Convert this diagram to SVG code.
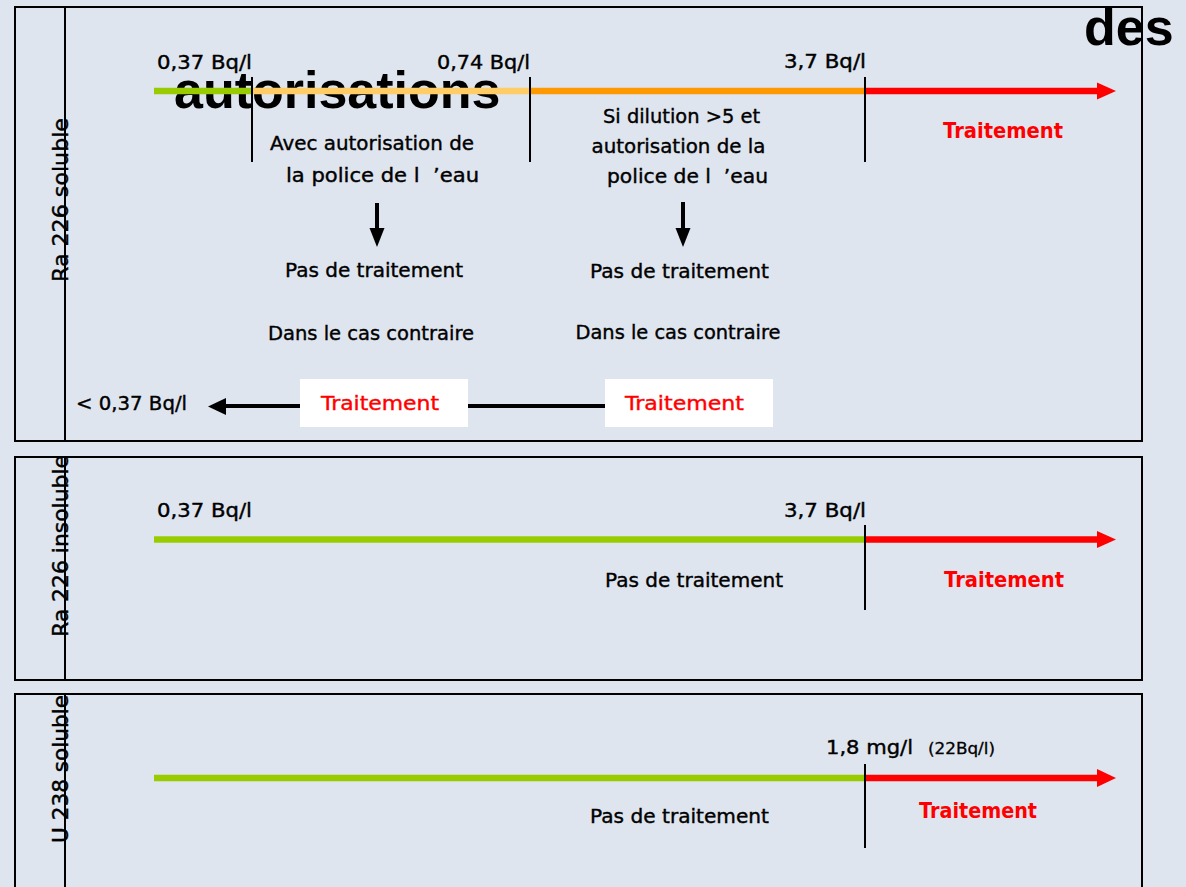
<svg xmlns="http://www.w3.org/2000/svg" width="1186" height="887" viewBox="0 0 1186 887">
<style>
.bg{fill:#DFE5EF}
.big{font-family:"Liberation Sans",Arial,sans-serif;font-weight:bold;font-size:52px;fill:#000}
.t{font-family:"DejaVu Sans","Liberation Sans",sans-serif;font-size:20px;fill:#000;stroke:#000;stroke-width:0.4}
.n{font-family:"DejaVu Sans","Liberation Sans",sans-serif;font-size:19px;fill:#000;stroke:#000;stroke-width:0.4}
.s{font-family:"DejaVu Sans","Liberation Sans",sans-serif;font-size:15px;fill:#000;stroke:#000;stroke-width:0.3}
.v{font-family:"DejaVu Sans","Liberation Sans",sans-serif;font-size:22px;fill:#000;stroke:#000;stroke-width:0.4}
.r{font-family:"DejaVu Sans","Liberation Sans",sans-serif;font-size:21px;font-weight:bold;fill:#FF0000}
.rn{font-family:"DejaVu Sans","Liberation Sans",sans-serif;font-size:20px;fill:#FF0000;stroke:#FF0000;stroke-width:0.4}
.m{text-anchor:middle}
.frame{fill:none;stroke:#000;stroke-width:2}
.tick{stroke:#000;stroke-width:2}
.green{stroke:#99CC00;stroke-width:6.5}
.lor{stroke:#FFCC66;stroke-width:6.5}
.or{stroke:#FF9900;stroke-width:6.5}
.red{stroke:#FF0000;stroke-width:6.5}
.blk{stroke:#000;stroke-width:4}
</style>
<rect class="bg" x="0" y="0" width="1186" height="887"/>
<g id="title">
<text class="big" x="174" y="108">autorisations</text>
<text class="big" x="1084" y="45">des</text>
</g>
<g id="panel-ra226-soluble">
<rect class="frame" x="15" y="7" width="1127" height="434"/>
<line class="tick" x1="65" y1="7" x2="65" y2="441"/>
<text class="v" transform="translate(68,282) rotate(-90)" textLength="164" lengthAdjust="spacingAndGlyphs">Ra 226 soluble</text>
<text class="n" x="157" y="69" textLength="95" lengthAdjust="spacingAndGlyphs">0,37 Bq/l</text>
<text class="n" x="437" y="69" textLength="93" lengthAdjust="spacingAndGlyphs">0,74 Bq/l</text>
<text class="n" x="784" y="68" textLength="82" lengthAdjust="spacingAndGlyphs">3,7 Bq/l</text>
<text class="t m" x="372" y="150" textLength="204" lengthAdjust="spacingAndGlyphs">Avec autorisation de</text>
<text class="t m" x="382.5" y="182" textLength="193" lengthAdjust="spacingAndGlyphs">la police de l&#160;&#160;’eau</text>
<text class="t m" x="681.5" y="123" textLength="157" lengthAdjust="spacingAndGlyphs">Si dilution &gt;5 et</text>
<text class="t m" x="678.5" y="153" textLength="174" lengthAdjust="spacingAndGlyphs">autorisation de la</text>
<text class="t m" x="687.5" y="183" textLength="161" lengthAdjust="spacingAndGlyphs">police de l&#160;&#160;’eau</text>
<text class="r m" x="1003" y="138" textLength="120" lengthAdjust="spacingAndGlyphs">Traitement</text>
<text class="t m" x="374" y="277" textLength="178" lengthAdjust="spacingAndGlyphs">Pas de traitement</text>
<text class="t m" x="679.5" y="278" textLength="179" lengthAdjust="spacingAndGlyphs">Pas de traitement</text>
<text class="t m" x="371" y="340" textLength="206" lengthAdjust="spacingAndGlyphs">Dans le cas contraire</text>
<text class="t m" x="678" y="339" textLength="205" lengthAdjust="spacingAndGlyphs">Dans le cas contraire</text>
<text class="n" x="76" y="410" textLength="111" lengthAdjust="spacingAndGlyphs">&lt; 0,37 Bq/l</text>
</g>
<g id="panel-ra226-insoluble">
<rect class="frame" x="15" y="457" width="1127" height="223"/>
<line class="tick" x1="65" y1="457" x2="65" y2="680"/>
<text class="v" transform="translate(68,637) rotate(-90)" textLength="182" lengthAdjust="spacingAndGlyphs">Ra 226 insoluble</text>
<text class="n" x="157" y="517" textLength="95" lengthAdjust="spacingAndGlyphs">0,37 Bq/l</text>
<text class="n" x="784" y="517" textLength="82" lengthAdjust="spacingAndGlyphs">3,7 Bq/l</text>
<text class="t" x="605" y="587" textLength="178" lengthAdjust="spacingAndGlyphs">Pas de traitement</text>
<text class="r" x="944" y="587" textLength="120" lengthAdjust="spacingAndGlyphs">Traitement</text>
</g>
<g id="panel-u238-soluble">
<rect class="frame" x="15" y="694" width="1127" height="200"/>
<line class="tick" x1="65" y1="694" x2="65" y2="887"/>
<text class="v" transform="translate(68,843) rotate(-90)" textLength="148" lengthAdjust="spacingAndGlyphs">U 238 soluble</text>
<text class="t" x="826" y="754" textLength="87" lengthAdjust="spacingAndGlyphs">1,8 mg/l</text>
<text class="s" x="928" y="754" textLength="67" lengthAdjust="spacingAndGlyphs">(22Bq/l)</text>
<text class="t" x="590" y="823" textLength="179" lengthAdjust="spacingAndGlyphs">Pas de traitement</text>
<text class="r" x="919" y="818" textLength="118" lengthAdjust="spacingAndGlyphs">Traitement</text>
</g>
<g id="connectors">
<line class="green" x1="154" y1="91" x2="252" y2="91"/>
<line class="lor" x1="252" y1="91" x2="530" y2="91"/>
<line class="or" x1="530" y1="91" x2="865" y2="91"/>
<line class="red" x1="865" y1="91" x2="1099" y2="91"/>
<polygon fill="#FF0000" points="1097,82.5 1116,91 1097,99.5"/>
<line class="tick" x1="252" y1="77" x2="252" y2="162"/>
<line class="tick" x1="530" y1="77" x2="530" y2="162"/>
<line class="tick" x1="865" y1="77" x2="865" y2="162"/>
<line class="blk" x1="377" y1="203" x2="377" y2="230"/>
<polygon fill="#000" points="369.5,228 384.5,228 377,247"/>
<line class="blk" x1="683" y1="202" x2="683" y2="230"/>
<polygon fill="#000" points="675.5,228 690.5,228 683,247"/>
<line class="blk" x1="224" y1="406" x2="605" y2="406"/>
<polygon fill="#000" points="226,398 208,406.5 226,415"/>
<line class="green" x1="154" y1="539.5" x2="865" y2="539.5"/>
<line class="red" x1="865" y1="539.5" x2="1099" y2="539.5"/>
<polygon fill="#FF0000" points="1097,531 1116,539.5 1097,548"/>
<line class="tick" x1="865" y1="525" x2="865" y2="610"/>
<line class="green" x1="154" y1="778" x2="865" y2="778"/>
<line class="red" x1="865" y1="778" x2="1099" y2="778"/>
<polygon fill="#FF0000" points="1097,769 1116,778 1097,787"/>
<line class="tick" x1="865" y1="764" x2="865" y2="848"/>
</g>
<g id="box-traitement-1">
<rect x="300" y="379" width="168" height="48" fill="#FFFFFF"/>
<text class="rn" x="321" y="409.5" textLength="118" lengthAdjust="spacingAndGlyphs">Traitement</text>
</g>
<g id="box-traitement-2">
<rect x="605" y="379" width="168" height="48" fill="#FFFFFF"/>
<text class="rn" x="625" y="410" textLength="119" lengthAdjust="spacingAndGlyphs">Traitement</text>
</g>
</svg>
